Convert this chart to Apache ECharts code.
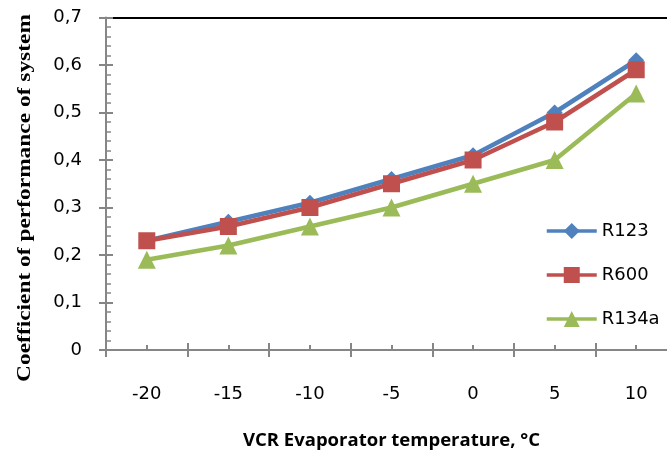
<!DOCTYPE html>
<html><head><meta charset="utf-8">
<script src="https://cdn.jsdelivr.net/npm/echarts@6/dist/echarts.min.js"></script>
<style>html,body{margin:0;padding:0;background:#fff}#c{width:667px;height:452px}</style>
</head><body><div id="c"></div>
<script>
const categories = ['-20', '-15', '-10', '-5', '0', '5', '10'];
const r123 = [0.23, 0.27, 0.31, 0.36, 0.41, 0.50, 0.61];
const r600 = [0.23, 0.26, 0.30, 0.35, 0.40, 0.48, 0.59];
const r134a = [0.19, 0.22, 0.26, 0.30, 0.35, 0.40, 0.54];
const yTickLabels = ['0', '0,1', '0,2', '0,3', '0,4', '0,5', '0,6', '0,7'];
const xTitle = 'VCR Evaporator temperature, °C';
const yTitle = 'Coefficient of performance of system';

const chart = echarts.init(document.getElementById('c'));
const gray = '#868686';
const tickFont = { fontFamily: 'DejaVu Sans', fontSize: 18, color: '#000' };
const yMin = 0, yMax = 0.7, yInt = 0.1;
chart.setOption({
  animation: false,
  grid: { left: 106, width: 571, top: 17.5, bottom: 102, outerBoundsMode: 'none', containLabel: false },
  graphic: [
    { type: 'text', x: 25, y: 198, rotation: Math.PI / 2, scaleX: 1.3, scaleY: 1,
      style: { text: yTitle, fontFamily: 'Liberation Serif', fontWeight: 'bold', fontSize: 18,
               fill: '#000', align: 'center', verticalAlign: 'middle' } }
  ],
  xAxis: [
    { type: 'category', data: categories, boundaryGap: true, position: 'bottom',
      axisLine: { lineStyle: { color: gray, width: 2 } },
      axisTick: { show: true, inside: false, length: 7, lineStyle: { color: gray, width: 2 } },
      axisLabel: Object.assign({ margin: 35 }, tickFont),
      name: xTitle, nameLocation: 'middle', nameGap: 81,
      nameTextStyle: { fontFamily: 'Open Sans', fontWeight: 'bold', fontSize: 18.5, color: '#000' } },
    { type: 'category', data: categories, boundaryGap: true, position: 'bottom',
      axisLine: { show: false },
      axisTick: { show: true, inside: true, length: 7, lineStyle: { color: gray, width: 2 } },
      axisLabel: { show: false } },
    { type: 'category', data: categories, boundaryGap: true, position: 'bottom',
      axisLine: { show: false },
      axisTick: { show: true, inside: true, alignWithLabel: true, length: 5, lineStyle: { color: gray, width: 2 } },
      axisLabel: { show: false } },
    { type: 'category', data: categories, boundaryGap: true, position: 'top',
      axisLine: { show: true, lineStyle: { color: '#000', width: 2 } },
      axisTick: { show: false }, axisLabel: { show: false } }
  ],
  yAxis: [
    { type: 'value', min: yMin, max: yMax, interval: yInt, position: 'left',
      axisLine: { show: true, lineStyle: { color: gray, width: 2 } },
      axisTick: { show: true, inside: false, length: 7, lineStyle: { color: gray, width: 2 } },
      splitLine: { show: false },
      axisLabel: Object.assign({ margin: 24, formatter: (v) => yTickLabels[Math.round(v / yInt)] }, tickFont) },
    { type: 'value', min: yMin, max: yMax, interval: yInt, position: 'left',
      axisLine: { show: false },
      axisTick: { show: true, inside: true, length: 7, lineStyle: { color: gray, width: 2 } },
      minorTick: { show: true, splitNumber: 5, length: 5, lineStyle: { color: gray, width: 1.5 } },
      splitLine: { show: false }, axisLabel: { show: false } }
  ],
  legend: {
    orient: 'vertical', left: 540, top: 216, itemWidth: 50, itemHeight: 20, itemGap: 24,
    lineStyle: { width: 3.5 },
    textStyle: { fontFamily: 'DejaVu Sans', fontSize: 18, lineHeight: 20, color: '#000' },
    data: ['R123', 'R600', 'R134a']
  },
  series: [
    { name: 'R123', type: 'line', data: r123, symbol: 'diamond', symbolSize: 16,
      color: '#4F81BD', lineStyle: { width: 4.5 }, itemStyle: { color: '#4F81BD' } },
    { name: 'R600', type: 'line', data: r600, symbol: 'rect', symbolSize: 17,
      color: '#C0504D', lineStyle: { width: 4.5 }, itemStyle: { color: '#C0504D' } },
    { name: 'R134a', type: 'line', data: r134a, symbol: 'triangle', symbolSize: 18,
      color: '#9BBB59', lineStyle: { width: 4.5 }, itemStyle: { color: '#9BBB59' } }
  ]
});
</script></body></html>
